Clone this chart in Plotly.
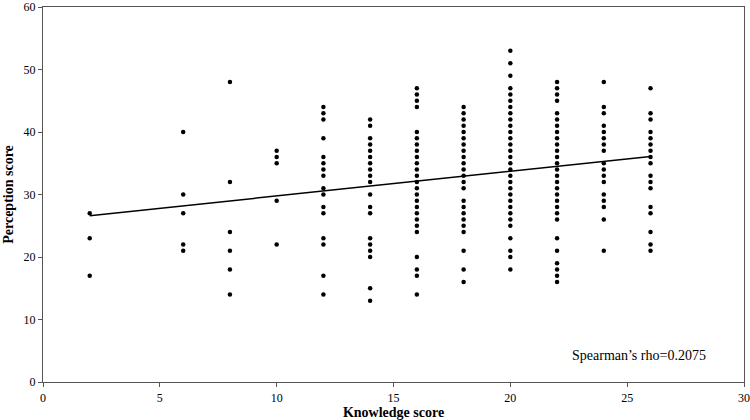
import plotly.graph_objects as go

# Knowledge score columns and the perception scores observed at each
knowledge_levels = [2, 6, 8, 10, 12, 14, 16, 18, 20, 22, 24, 26]

perc_k2 = [27, 23, 17]
perc_k6 = [40, 30, 27, 22, 21]
perc_k8 = [48, 32, 24, 21, 18, 14]
perc_k10 = [37, 36, 35, 29, 22]
perc_k12 = [44, 43, 42, 39, 36, 35, 34, 33, 31, 30, 28, 27, 23, 22, 17, 14]
perc_k14 = [42, 41, 39, 38, 37, 36, 35, 34, 33, 32, 30, 28, 27, 23, 22, 21, 20, 15, 13]
perc_k16 = [47, 46, 45, 44, 40, 39, 38, 37, 36, 35, 34, 33, 32, 31, 30, 29, 28, 27,
            26, 25, 24, 20, 18, 17, 14]
perc_k18 = [44, 43, 42, 41, 40, 39, 38, 37, 36, 35, 34, 33, 32, 31, 29, 28, 27, 26,
            25, 24, 21, 18, 16]
perc_k20 = [53, 51, 49, 47, 46, 45, 44, 43, 42, 41, 40, 39, 38, 37, 36, 35, 34, 33,
            32, 31, 30, 29, 28, 27, 26, 25, 23, 21, 20, 18]
perc_k22 = [48, 47, 46, 45, 43, 42, 41, 40, 39, 38, 37, 36, 35, 34, 33, 32, 31, 30,
            29, 28, 27, 26, 23, 21, 19, 18, 17, 16]
perc_k24 = [48, 44, 43, 41, 40, 39, 38, 37, 35, 34, 33, 32, 30, 29, 28, 26, 21]
perc_k26 = [47, 43, 42, 40, 39, 38, 37, 36, 35, 33, 32, 31, 28, 27, 24, 22, 21]

perception_by_level = [perc_k2, perc_k6, perc_k8, perc_k10, perc_k12, perc_k14,
                       perc_k16, perc_k18, perc_k20, perc_k22, perc_k24, perc_k26]

# Fitted trend line endpoints
trend_x = [2, 26]
trend_y = [26.6, 36.1]

x_ticks = [0, 5, 10, 15, 20, 25, 30]
y_ticks = [0, 10, 20, 30, 40, 50, 60]
annotation_text = "Spearman\u2019s rho=0.2075"

xs, ys = [], []
for k, vals in zip(knowledge_levels, perception_by_level):
    xs.extend([k] * len(vals))
    ys.extend(vals)

fig = go.Figure()
fig.add_trace(go.Scatter(x=xs, y=ys, mode="markers",
                         marker=dict(color="black", size=4.5), showlegend=False,
                         cliponaxis=False))
fig.add_trace(go.Scatter(x=trend_x, y=trend_y, mode="lines",
                         line=dict(color="black", width=1.5), showlegend=False))

font_serif = "Liberation Serif, Times New Roman, serif"
axis_common = dict(showline=True, linecolor="#555555", linewidth=1.2, mirror=True,
                   showgrid=False, zeroline=False, ticks="outside", ticklen=4,
                   tickcolor="#555555", ticklabeloverflow="allow", automargin=False,
                   tickfont=dict(family=font_serif, size=12, color="black"))

fig.update_layout(
    width=750, height=420,
    margin=dict(l=43, r=6, t=7, b=38, autoexpand=False),
    paper_bgcolor="white", plot_bgcolor="white",
    xaxis=dict(range=[0, 30], tickvals=x_ticks, **axis_common,
               title=dict(text="<b>Knowledge score</b>", standoff=6,
                          font=dict(family=font_serif, size=14, color="black"))),
    yaxis=dict(range=[0, 60], tickvals=y_ticks, **axis_common,
               title=dict(text="<b>Perception score</b>", standoff=6,
                          font=dict(family=font_serif, size=14, color="black"))),
    annotations=[dict(x=25.5, y=4.3, xref="x", yref="y", text=annotation_text,
                      showarrow=False, xanchor="center", yanchor="middle",
                      font=dict(family=font_serif, size=14, color="black"))],
)

fig.write_html("out.html")
